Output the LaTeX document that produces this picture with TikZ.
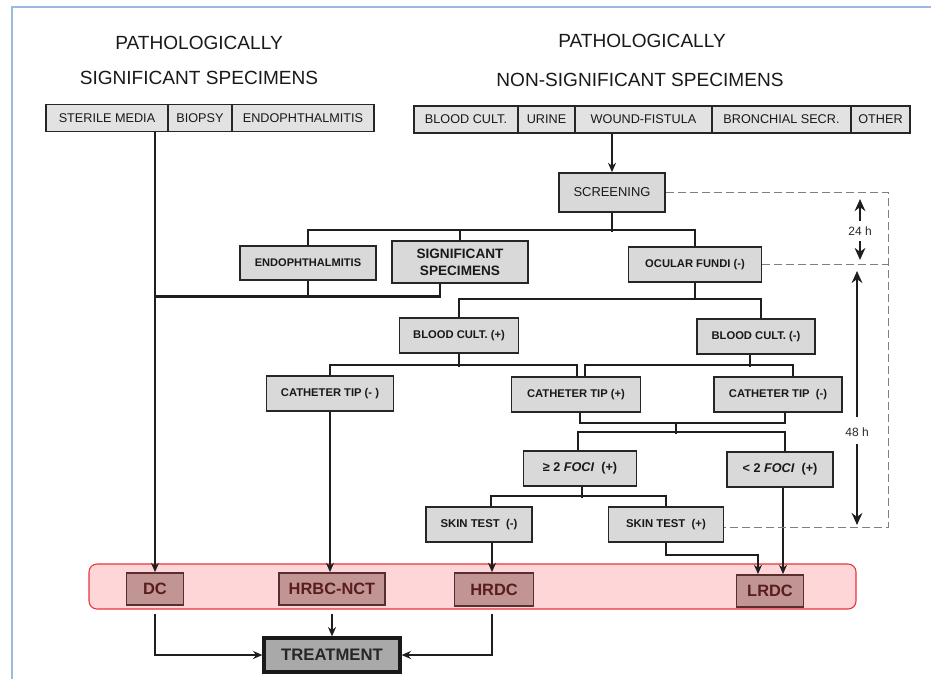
\documentclass[tikz,border=0pt]{standalone}
\usepackage{fontspec}
\setmainfont{Liberation Sans}
\usetikzlibrary{arrows.meta,calc}
\definecolor{frameblue}{HTML}{9CB8DE}
\definecolor{boxgray}{HTML}{D9D9D9}
\definecolor{bargray}{HTML}{E2E2E2}
\definecolor{lineblk}{HTML}{1E1E1E}
\definecolor{bandfill}{HTML}{FFD6D8}
\definecolor{bandline}{HTML}{E8323C}
\definecolor{resfill}{HTML}{C29595}
\definecolor{restext}{HTML}{5A1C1C}
\definecolor{resline}{HTML}{5A2E2E}
\definecolor{treatfill}{HTML}{A9A9A9}
\begin{document}
\begin{tikzpicture}[x=0.75pt,y=-0.75pt,
  sz/.style 2 args={minimum width=#1*0.75pt, minimum height=#2*0.75pt},
  ttl/.style={font=\fontsize{14.3}{16}\selectfont, text=black!90, inner sep=0},
  cell/.style={draw=black!85, line width=1.3pt, fill=bargray, font=\fontsize{9.5}{11}\selectfont, text=black!90, inner sep=0},
  gbox/.style={draw=black!85, line width=1.3pt, fill=boxgray, inner sep=0, align=center, text=black!90, font=\fontsize{8.4}{10}\selectfont\bfseries},
  res/.style={draw=resline, line width=1.3pt, fill=resfill, text=restext, font=\fontsize{12.3}{14}\selectfont\bfseries, inner sep=0},
  ln/.style={draw=lineblk, line width=1.8pt},
  arr/.style={ln, -{Stealth[length=7pt,width=6pt]}},
  dsh/.style={draw=black!50, line width=0.8pt, dash pattern=on 6pt off 3pt},
  tarr/.style={draw=lineblk, line width=2.2pt, -{Stealth[length=9pt,width=8pt]}},
  hlab/.style={font=\fontsize{9}{10}\selectfont, text=black!85, inner sep=1pt}
]
\useasboundingbox (0,0) rectangle (931,679);
\draw[frameblue, line width=1.5pt] (12,679) -- (12,7) -- (931,7);

% band
\node[draw=bandline, fill=bandfill, rounded corners=6pt, line width=0.8pt, sz={767}{45}] (band) at (472.5,586.5) {};

% titles
\node[ttl] (t1a) at (199,43) {PATHOLOGICALLY};
\node[ttl] (t1b) at (199,78) {SIGNIFICANT SPECIMENS};
\node[ttl] (t2a) at (642,41) {PATHOLOGICALLY};
\node[ttl] (t2b) at (640,80) {NON-SIGNIFICANT SPECIMENS};

% left bar
\node[cell, sz={122}{27}] (sm) at (107,118) {STERILE MEDIA};
\node[cell, sz={64}{27}] (bi) at (200,118) {BIOPSY};
\node[cell, sz={142}{27}] (en) at (303,118) {ENDOPHTHALMITIS};
% right bar
\node[cell, sz={104}{27}] (bc) at (466,119.5) {BLOOD CULT.};
\node[cell, sz={57}{27}] (ur) at (546.5,119.5) {URINE};
\node[cell, sz={137}{27}] (wf) at (643.5,119.5) {WOUND-FISTULA};
\node[cell, sz={139}{27}] (br) at (781.5,119.5) {BRONCHIAL SECR.};
\node[cell, sz={59}{27}] (ot) at (880.5,119.5) {OTHER};

% boxes
\node[gbox, sz={106}{39}, font=\fontsize{9.7}{11}\selectfont] (scr) at (612,192.5) {SCREENING};
\node[gbox, sz={136}{34}, font=\fontsize{8.3}{10}\selectfont\bfseries] (endo) at (308,263) {ENDOPHTHALMITIS};
\node[gbox, sz={136}{42}, font=\fontsize{10.2}{12.5}\selectfont\bfseries] (sig) at (460,262) {SIGNIFICANT\\SPECIMENS};
\node[gbox, sz={133}{35}] (ocu) at (695,264.5) {OCULAR FUNDI (-)};
\node[gbox, sz={119}{35}] (bcp) at (459,335.5) {BLOOD CULT. (+)};
\node[gbox, sz={118}{35}] (bcm) at (756,336.5) {BLOOD CULT. (-)};
\node[gbox, sz={127}{35}] (ctl) at (330,393.5) {CATHETER TIP (- )};
\node[gbox, sz={129}{35}] (ctp) at (576,394.5) {CATHETER TIP (+)};
\node[gbox, sz={128}{35}] (ctr) at (778,394.5) {CATHETER TIP~~(-)};
\node[gbox, sz={113}{35}, font=\fontsize{9.5}{11}\selectfont\bfseries] (f2) at (580,468.5) {≥ 2 \textit{FOCI}~~(+)};
\node[gbox, sz={106}{35}, font=\fontsize{9.5}{11}\selectfont\bfseries] (fl) at (780,469.5) {< 2 \textit{FOCI}~~(+)};
\node[gbox, sz={106}{35}, font=\fontsize{8.5}{10}\selectfont\bfseries] (skm) at (479,524.5) {SKIN TEST~~(-)};
\node[gbox, sz={115}{35}, font=\fontsize{8.5}{10}\selectfont\bfseries] (skp) at (666,524.5) {SKIN TEST~~(+)};

% results
\node[res, sz={57}{32}] (dc) at (155,589) {DC};
\node[res, sz={106}{32}] (hrbc) at (332,589) {HRBC-NCT};
\node[res, sz={79}{33}] (hrdc) at (494,589.5) {HRDC};
\node[res, sz={67}{32}] (lrdc) at (770,591) {LRDC};
\node[draw=black!90, line width=2.4pt, fill=treatfill, text=black!85, inner sep=0, sz={136}{34}, font=\fontsize{12.5}{14}\selectfont\bfseries] (tr) at (332,655) {TREATMENT};

% hour labels
\node[hlab] (h24) at (860,231) {24 h};
\node[hlab] (h48) at (857,432) {48 h};

% connectors
\draw[arr] ($(sm.south)+(48,0)$) coordinate (la) -- (la |- dc.north);
\draw[arr] ($(wf.south)+(-31.5,0)$) -- (scr.north);
\draw[ln] (scr.south) -- ++(0,19);
\draw[ln] (endo.north) -- ++(0,-15) -| (ocu.north);
\draw[ln] (sig.north) -- ++(0,-10);
\draw[ln] (endo.south) -- ++(0,15);
\draw[ln] ($(sig.south)+(-20,0)$) |- ($(sm.south)+(48,164)$);
\draw[ln] (ocu.south) -- ++(0,17);
\draw[ln] (bcp.north) |- ($(bcm.north)+(5,-19)$) -- ($(bcm.north)+(5,0)$);
\draw[ln] (bcp.south) -- ++(0,13);
\draw[ln] (ctl.north) |- ($(ctp.north)+(1,-11)$) -- ($(ctp.north)+(1,0)$);
\draw[ln] ($(bcm.south)+(-6,0)$) -- ++(0,12);
\draw[ln] ($(ctp.north)+(9,0)$) |- ($(ctr.north)+(15,-11)$) -- ($(ctr.north)+(15,0)$);
\draw[ln] ($(ctp.south)+(4,0)$) |- ($(ctr.south)+(7,10)$) -- ($(ctr.south)+(7,0)$);
\draw[ln] ($(ctp.south)+(100,10)$) -- ++(0,11);
\draw[ln] ($(f2.north)+(-2,0)$) |- ($(fl.north)+(5,-19)$) -- ($(fl.north)+(5,0)$);
\draw[ln] ($(f2.south)+(2,0)$) -- ++(0,11);
\draw[ln] ($(skm.north)+(12,0)$) |- ($(skp.north)+(0,-10)$) -- (skp.north);
\draw[arr] (ctl.south) -- (ctl.south |- hrbc.north);
\draw[arr] ($(skm.south)+(13,0)$) -- ($(hrdc.north)+(-2,0)$);
\draw[arr] (skp.south) |- ($(lrdc.north)+(-12,-19)$) -- ($(lrdc.north)+(-12,0)$);
\draw[arr] ($(fl.south)+(3,0)$) -- ($(lrdc.north)+(13,0)$);
\draw[arr] ($(dc.south |- band.south)+(0,4)$) |- (tr.west);
\draw[arr] ($(hrbc.south |- band.south)+(0,4)$) -- (tr.north);
\draw[arr] ($(hrdc.south |- band.south)+(-2,4)$) |- (tr.east);

% dashed timing lines
\draw[dsh] (scr.east) -| ($(skp.east)+(164,3)$) -- ($(skp.east)+(0,3)$);
\draw[dsh] (ocu.east) -- ++(126,0);

% timing arrows
\draw[tarr] (h24.north) ++(0,-4) -- ++(0,-22);
\draw[tarr] (h24.south) ++(0,4) -- ++(0,19);
\draw[tarr] (h48.north) ++(0,-9) -- ++(0,-146);
\draw[tarr] (h48.south) ++(0,6) -- ++(0,81);
\end{tikzpicture}
\end{document}
